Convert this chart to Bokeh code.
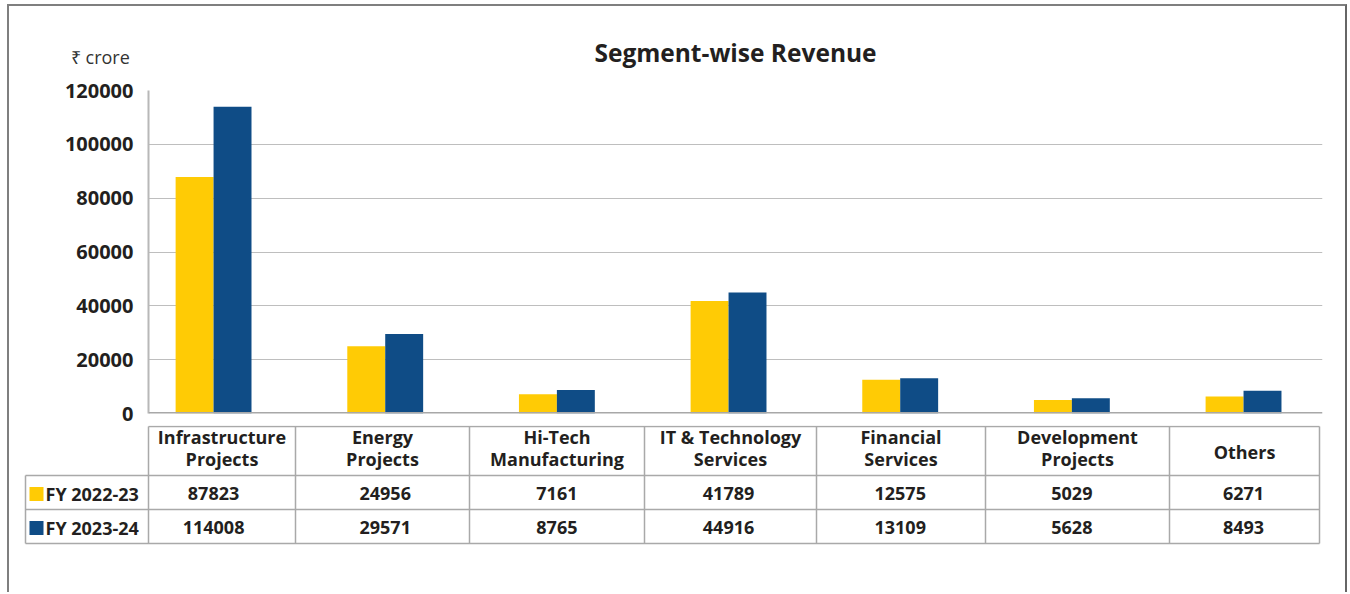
from bokeh.plotting import figure
from bokeh.models import Range1d, FixedTicker, Span, ColumnDataSource, NumeralTickFormatter
from bokeh.layouts import column
from bokeh.transform import dodge
from bokeh.embed import file_html
from bokeh.resources import INLINE
from bokeh.core.properties import value

# ---------------- data ----------------
categories = ["Infrastructure Projects", "Energy Projects", "Hi-Tech Manufacturing",
              "IT & Technology Services", "Financial Services", "Development Projects", "Others"]
header_lines = [["Infrastructure", "Projects"], ["Energy", "Projects"], ["Hi-Tech", "Manufacturing"],
                ["IT & Technology", "Services"], ["Financial", "Services"], ["Development", "Projects"],
                ["Others"]]
series_names = ["FY 2022-23", "FY 2023-24"]
fy2223 = [87823, 24956, 7161, 41789, 12575, 5029, 6271]
fy2324 = [114008, 29571, 8765, 44916, 13109, 5628, 8493]
y_ticks = [0, 20000, 40000, 60000, 80000, 100000, 120000]
title_text = "Segment-wise Revenue"
unit_text = "\u20b9  crore"

# ---------------- style / geometry (page px) ----------------
FONT = "Open Sans"
YELLOW = "#FFCB05"
BLUE = "#0F4C86"
TXT = "#231F20"
LINE = "#A9A9A9"
BORDER = "#7F7F7F"

IX, IY = 9, 6                 # inner origin (inside css border)
W = 1336
FRAME_L, FRAME_R, FRAME_T, FRAME_B = 148, 1322, 90, 413
P0_B = 74                     # bottom of heading strip
P1_B = 425                    # bottom of bar chart canvas
P2_B = 592                    # bottom of table canvas

XR0, XR1 = 0.121, 6.96
YMAX = 120000
BAR_W = 0.221

n = len(categories)
xs = [i + 0.5 for i in range(n)]
xscale = (XR1 - XR0) / (FRAME_R - FRAME_L)


def strip(top, bottom):
    f = figure(width=W, height=bottom - top, output_backend="svg", toolbar_location=None,
               x_range=Range1d(IX, IX + W), y_range=Range1d(bottom, top), min_border=0)
    f.title.visible = False
    f.axis.visible = False
    f.grid.visible = False
    f.outline_line_color = None
    f.frame_align = False
    return f


# ---------------- heading strip ----------------
p0 = strip(IY, P0_B)
p0.text(x=[(FRAME_L + FRAME_R) / 2], y=[52], text=[title_text], text_align="center",
        text_baseline="middle", text_font=value(FONT), text_font_style="bold",
        text_font_size="24.5px", text_color=TXT)
p0.text(x=[134], y=[56], text=[unit_text], text_align="right", text_baseline="middle",
        text_font=value(FONT), text_font_size="18px", text_color="#333333")

# ---------------- bar chart ----------------
src = ColumnDataSource(dict(x=xs, a=fy2223, b=fy2324, cat=categories))

p1 = figure(width=W, height=P1_B - P0_B, output_backend="svg", toolbar_location=None,
            x_range=Range1d(XR0, XR1), y_range=Range1d(0, YMAX),
            min_border_left=FRAME_L - IX, min_border_right=IX + W - FRAME_R,
            min_border_top=FRAME_T - P0_B, min_border_bottom=P1_B - FRAME_B)
p1.title.visible = False
p1.outline_line_color = None
p1.frame_align = False

p1.vbar(x=dodge("x", -BAR_W / 2, range=p1.x_range), top="a", width=BAR_W, source=src,
        fill_color=YELLOW, line_color=None)
p1.vbar(x=dodge("x", BAR_W / 2, range=p1.x_range), top="b", width=BAR_W, source=src,
        fill_color=BLUE, line_color=None)

p1.xaxis.visible = False
p1.xgrid.visible = False
p1.ygrid.ticker = FixedTicker(ticks=y_ticks)
p1.ygrid.grid_line_color = "#BEBEBE"
p1.ygrid.grid_line_width = 1.2

ya = p1.yaxis[0]
ya.ticker = FixedTicker(ticks=y_ticks)
ya.formatter = NumeralTickFormatter(format="0")
ya.major_label_text_font = FONT
ya.major_label_text_font_style = "bold"
ya.major_label_text_font_size = "20px"
ya.major_label_text_color = TXT
ya.major_tick_line_color = None
ya.minor_tick_line_color = None
ya.axis_line_color = "#B8B8B8"
ya.axis_line_width = 2
ya.major_label_standoff = 9

p1.add_layout(Span(location=0, dimension="width", line_color="#A8A8A8", line_width=3))

# ---------------- table ----------------
p2 = strip(P1_B, P2_B)

col_x = [148, 295, 469, 644, 816, 985, 1169, 1319]
row_y = [426, 475, 509, 543]
LAB_L = 25

hx0 = [col_x[0], LAB_L, LAB_L, LAB_L]
hx1 = [col_x[-1]] * 4
p2.segment(x0=hx0, y0=row_y, x1=hx1, y1=row_y, line_color=LINE, line_width=1.5)
vx = [LAB_L] + col_x
vy0 = [row_y[1]] + [row_y[0]] * len(col_x)
vy1 = [row_y[3]] * len(vx)
p2.segment(x0=vx, y0=vy0, x1=vx, y1=vy1, line_color=LINE, line_width=1.5)

hx, hy, ht = [], [], []
for i, lines in enumerate(header_lines):
    cx = (col_x[i] + col_x[i + 1]) / 2
    if len(lines) == 2:
        for t, yy in zip(lines, [436, 458]):
            hx.append(cx); hy.append(yy); ht.append(t)
    else:
        hx.append(cx); hy.append(451); ht.append(lines[0])
p2.text(x=hx, y=hy, text=ht, text_align="center", text_baseline="middle",
        text_font=value(FONT), text_font_style="bold", text_font_size="18px", text_color=TXT)

cat_px = [FRAME_L + (x - XR0) / xscale for x in xs]
vals_src = ColumnDataSource(dict(
    x=cat_px + cat_px,
    y=[493] * n + [527] * n,
    t=[str(v) for v in fy2223] + [str(v) for v in fy2324]))
p2.text(x="x", y="y", text="t", source=vals_src, text_align="center", text_baseline="middle",
        text_font=value(FONT), text_font_style="bold", text_font_size="18px", text_color=TXT)

p2.rect(x=[36, 36], y=[493.5, 527.5], width=14, height=14, fill_color=[YELLOW, BLUE], line_color=None)
p2.text(x=[45, 45], y=[493, 527], text=series_names, text_align="left", text_baseline="middle",
        text_font=value(FONT), text_font_style="bold", text_font_size="18px", text_color=TXT)

layout = column(p0, p1, p2, spacing=0,
                styles={"margin-left": "7px", "margin-top": "4px",
                        "border-left": f"2px solid {BORDER}",
                        "border-top": f"2px solid {BORDER}",
                        "border-right": "2px solid #666666"})

open("out.html", "w").write(file_html(layout, INLINE))
